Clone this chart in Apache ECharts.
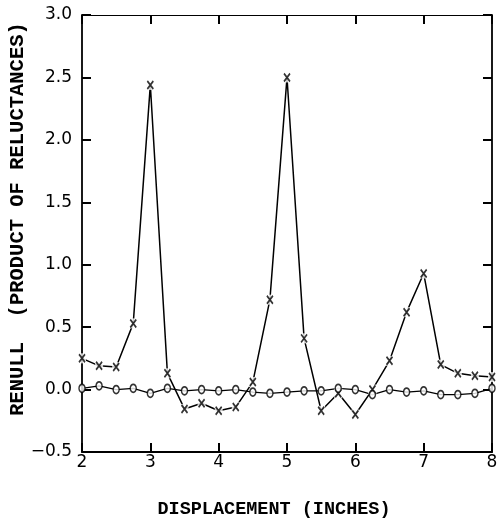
<!DOCTYPE html>
<html><head><meta charset="utf-8">
<script src="https://cdn.jsdelivr.net/npm/echarts@6/dist/echarts.min.js"></script>
<style>html,body{margin:0;padding:0;background:#fff}#c{width:498px;height:518px}</style>
</head><body><div id="c"></div>
<script>
const displacement = [2,2.25,2.5,2.75,3,3.25,3.5,3.75,4,4.25,4.5,4.75,5,5.25,5.5,5.75,6,6.25,6.5,6.75,7,7.25,7.5,7.75,8];
const crossValues = [0.25,0.19,0.18,0.53,2.44,0.13,-0.155,-0.11,-0.17,-0.14,0.06,0.72,2.5,0.41,-0.17,-0.03,-0.2,0.0,0.23,0.62,0.93,0.20,0.13,0.11,0.10];
const circleValues = [0.01,0.03,0.0,0.01,-0.03,0.01,-0.01,0.0,-0.01,0.0,-0.02,-0.03,-0.02,-0.01,-0.01,0.01,0.0,-0.04,0.0,-0.02,-0.01,-0.04,-0.04,-0.03,0.01];
const xTicks = [2,3,4,5,6,7,8];
const yTicks = [-0.5,0,0.5,1,1.5,2,2.5,3];
const xTitle = 'DISPLACEMENT (INCHES)';
const yTitle = 'RENULL  (PRODUCT OF RELUCTANCES)';

const xMin = xTicks[0], xMax = xTicks[xTicks.length-1];
const yMin = yTicks[0], yMax = yTicks[yTicks.length-1];
const pts = v => displacement.map((x,i)=>[x,v[i]]);
const tickFont = () => ({fontFamily:'DejaVu Sans, sans-serif', fontSize:17, color:'#000'});
const titleFamily = 'Liberation Mono, Courier New, monospace';
const axLine = (w) => ({show:true, onZero:false, lineStyle:{color:'#000', width:w}});
const tick = () => ({show:true, inside:true, length:9, lineStyle:{color:'#000', width:2}});
const chart = echarts.init(document.getElementById('c'), null, {renderer:'canvas'});
chart.setOption({
  animation:false,
  backgroundColor:'#fff',
  grid:{left:82, right:6, top:15, bottom:66, containLabel:false, outerBoundsMode:'none'},
  xAxis:[
    {type:'value', min:xMin, max:xMax, interval:1, position:'bottom',
     axisLine:axLine(1.8), axisTick:tick(), splitLine:{show:false},
     axisLabel:Object.assign({margin:2, formatter:v=>xTicks.includes(v)?String(v):''}, tickFont())},
    {type:'value', min:xMin, max:xMax, interval:1, position:'top',
     axisLine:axLine(1), axisTick:tick(), axisLabel:{show:false}, splitLine:{show:false}}
  ],
  yAxis:[
    {type:'value', min:yMin, max:yMax, interval:0.5, position:'left',
     axisLine:axLine(1.8), axisTick:tick(), splitLine:{show:false},
     axisLabel:Object.assign({margin:10, formatter:v=>yTicks.some(t=>Math.abs(t-v)<1e-9)?v.toFixed(1).replace('-','\u2212'):''}, tickFont())},
    {type:'value', min:yMin, max:yMax, interval:0.5, position:'right',
     axisLine:axLine(1.8), axisTick:tick(), axisLabel:{show:false}, splitLine:{show:false}}
  ],
  graphic:[
    {type:'text', x:274, y:509, style:{text:xTitle, x:0, y:0, fontFamily:titleFamily, fontWeight:'bold', fontSize:18.5, fill:'#000', align:'center', verticalAlign:'middle'}},
    {type:'text', x:18, y:219, rotation:Math.PI/2, style:{text:yTitle, x:0, y:0, fontFamily:titleFamily, fontWeight:'bold', fontSize:20.5, fill:'#000', align:'center', verticalAlign:'middle'}}
  ],
  series:[
    {type:'line', data:pts(crossValues), showSymbol:false, lineStyle:{color:'#000', width:1.5}, z:2},
    {type:'line', data:pts(circleValues), showSymbol:false, lineStyle:{color:'#000', width:1.3}, z:2},
    {type:'scatter', data:pts(crossValues), symbol:'rect', symbolSize:[8,10], itemStyle:{color:'#fff'}, z:3},
    {type:'scatter', data:pts(crossValues), symbol:'path://M0,0L8,10M8,0L0,10', symbolSize:[6,8],
     itemStyle:{color:'none', borderColor:'#000', borderWidth:1.8}, z:4},
    {type:'scatter', data:pts(circleValues), symbol:'circle', symbolSize:[6,8],
     itemStyle:{color:'#fff', borderColor:'#000', borderWidth:1.6}, z:4}
  ]
});
</script></body></html>
